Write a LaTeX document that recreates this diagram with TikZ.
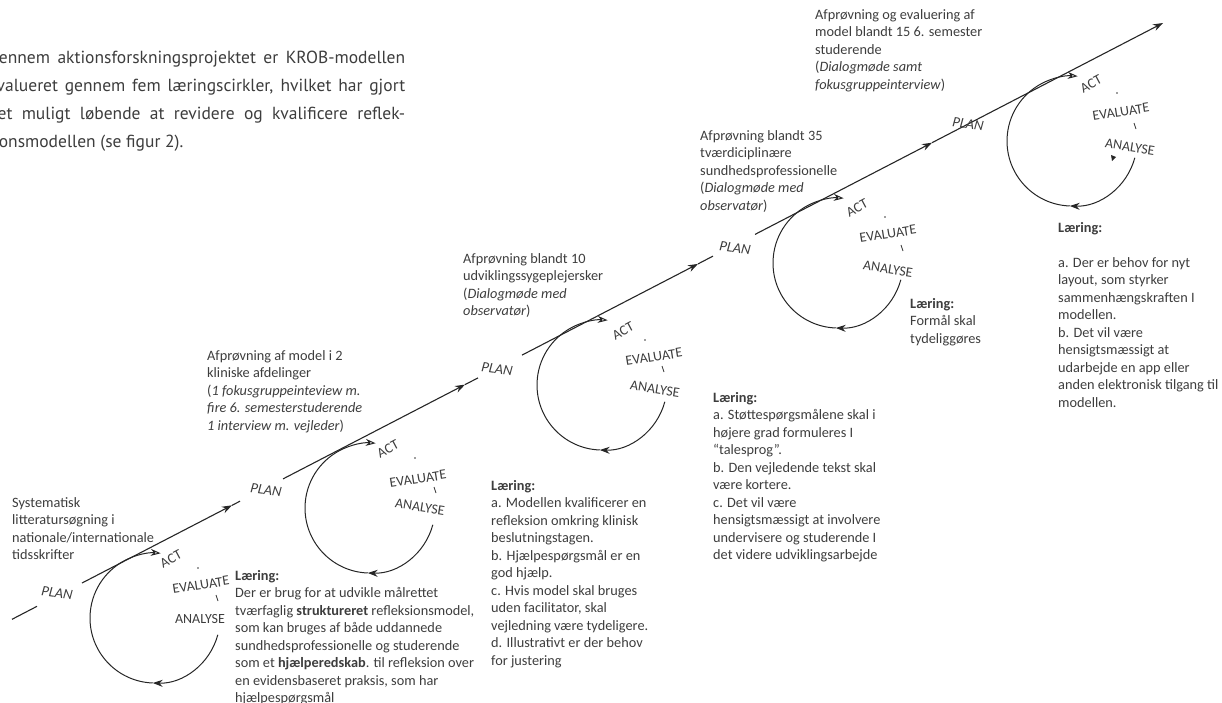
\documentclass[tikz,border=0pt]{standalone}
\usepackage{fontspec}
\setmainfont{Carlito}
\newfontfamily\brodfont{PT Sans}
\usepackage{xcolor}
\usepackage{tikz}
\usetikzlibrary{arrows.meta}

\definecolor{tekstgraa}{HTML}{3D3D3D}
\definecolor{stregfarve}{HTML}{262626}

\begin{document}
\begin{tikzpicture}[x=1pt, y=-1pt,
    fase tekst/.style={font=\fontsize{14}{16}\selectfont, text=tekstgraa, inner sep=0pt},
    plan tekst/.style={font=\fontsize{14.5}{16}\selectfont\itshape, text=tekstgraa, inner sep=0pt, rotate=-8},
    info tekst/.style={font=\fontsize{14.3}{17.5}\selectfont, text=tekstgraa, align=left, anchor=north west, inner sep=0pt},
    hovedlinje/.style={line width=1.1pt, draw=stregfarve},
    cirkel/.style={line width=1pt, draw=stregfarve},
    fuld pil/.style={-{Stealth[length=10pt, width=7pt]}},
    aaben pil/.style={-{Stealth[open, length=10pt, width=7pt]}},
    lille streg/.style={line width=0.9pt, draw=tekstgraa}
]
    \useasboundingbox (0,0) rectangle (1222,702);

    % Indledende tekst
    \node[anchor=north west, inner sep=0pt, align=left, text=tekstgraa, font=\brodfont\fontsize{17.5}{28}\selectfont] (indledning) at (-12,51)
        {\makebox[417pt][s]{Gennem aktionsforskningsprojektet er KROB-modellen}\\
         \makebox[417pt][s]{evalueret gennem fem læringscirkler, hvilket har gjort}\\
         \makebox[417pt][s]{det muligt løbende at revidere og kvalificere reflek-}\\
         tionsmodellen (se figur 2).};

    % Hovedlinje
    \coordinate (s0a) at (12,619.3);
    \coordinate (s0b) at (37,606.3);
    \coordinate (s1a) at (82,583);
    \coordinate (a1)  at (232,505.3);
    \coordinate (s1b) at (240,501.2);
    \coordinate (s2a) at (283,478.9);
    \coordinate (a2)  at (465,384.6);
    \coordinate (s2b) at (478,377.9);
    \coordinate (s3a) at (522,355.1);
    \coordinate (a3)  at (698,263.9);
    \coordinate (s3b) at (713,256.1);
    \coordinate (s4a) at (755,234.4);
    \coordinate (a4)  at (932,142.7);
    \coordinate (slut) at (1163,23);

    \draw[hovedlinje] (s0a) -- (s0b);
    \draw[hovedlinje, fuld pil] (s1a) -- (a1);
    \draw[hovedlinje] (a1) -- (s1b);
    \draw[hovedlinje, fuld pil] (s2a) -- (a2);
    \draw[hovedlinje] (a2) -- (s2b);
    \draw[hovedlinje, fuld pil] (s3a) -- (a3);
    \draw[hovedlinje] (a3) -- (s3b);
    \draw[hovedlinje, fuld pil] (s4a) -- (a4);
    \draw[hovedlinje, fuld pil] (a4) -- (slut);

    % PLAN
    \node[plan tekst] (plan1) at (57,593) {PLAN};
    \node[plan tekst] (plan2) at (266,490) {PLAN};
    \node[plan tekst] (plan3) at (497,369) {PLAN};
    \node[plan tekst] (plan4) at (735,248) {PLAN};
    \node[plan tekst] (plan5) at (968,124) {PLAN};

    % Cirkel 1
    \coordinate (c1) at (155,618);
    \draw[cirkel, fuld pil] ([shift={(15:65)}]c1) arc[start angle=15, end angle=92, radius=65];
    \draw[cirkel, aaben pil] ([shift={(92:65)}]c1) arc[start angle=92, end angle=275, radius=65];
    \node[fase tekst, rotate=28] (act1) at (171,559) {ACT};
    \fill[tekstgraa] (198,568) circle (0.8);
    \node[fase tekst, rotate=9] (eval1) at (201,585) {EVALUATE};
    \draw[lille streg] (216,595) -- (218,601);
    \node[fase tekst] (anal1) at (200,619) {ANALYSE};

    % Cirkel 2
    \coordinate (c2) at (370,508);
    \draw[cirkel, fuld pil] ([shift={(15:65)}]c2) arc[start angle=15, end angle=92, radius=65];
    \draw[cirkel, aaben pil] ([shift={(92:65)}]c2) arc[start angle=92, end angle=275, radius=65];
    \node[fase tekst, rotate=28] (act2) at (388,449) {ACT};
    \fill[tekstgraa] (415,458) circle (0.8);
    \node[fase tekst, rotate=9] (eval2) at (418,479) {EVALUATE};
    \draw[lille streg] (434,487) -- (436,493);
    \node[fase tekst, rotate=-9] (anal2) at (420,507) {ANALYSE};

    % Cirkel 3
    \coordinate (c3) at (602,385);
    \draw[cirkel, fuld pil] ([shift={(15:65)}]c3) arc[start angle=15, end angle=92, radius=65];
    \draw[cirkel, aaben pil] ([shift={(92:65)}]c3) arc[start angle=92, end angle=275, radius=65];
    \node[fase tekst, rotate=28] (act3) at (623,331) {ACT};
    \fill[tekstgraa] (645,340) circle (0.8);
    \node[fase tekst, rotate=9] (eval3) at (654,357) {EVALUATE};
    \draw[lille streg] (662,366) -- (664,372);
    \node[fase tekst, rotate=-9] (anal3) at (655,389) {ANALYSE};

    % Cirkel 4
    \coordinate (c4) at (838,263);
    \draw[cirkel, fuld pil] ([shift={(15:65)}]c4) arc[start angle=15, end angle=92, radius=65];
    \draw[cirkel, aaben pil] ([shift={(92:65)}]c4) arc[start angle=92, end angle=275, radius=65];
    \node[fase tekst, rotate=28] (act4) at (857,208) {ACT};
    \fill[tekstgraa] (885,217) circle (0.8);
    \node[fase tekst, rotate=9] (eval4) at (888,234) {EVALUATE};
    \draw[lille streg] (901,245) -- (903,251);
    \node[fase tekst, rotate=-9] (anal4) at (888,269) {ANALYSE};

    % Cirkel 5
    \coordinate (c5) at (1072,141);
    \draw[cirkel, fuld pil] ([shift={(15:65)}]c5) arc[start angle=15, end angle=92, radius=65];
    \draw[cirkel, aaben pil] ([shift={(92:65)}]c5) arc[start angle=92, end angle=275, radius=65];
    \node[fase tekst, rotate=28] (act5) at (1091,84) {ACT};
    \fill[tekstgraa] (1117,93) circle (0.8);
    \node[fase tekst, rotate=9] (eval5) at (1121,112) {EVALUATE};
    \draw[lille streg] (1134,123) -- (1136,129);
    \node[fase tekst, rotate=-9] (anal5) at (1130,147) {ANALYSE};
    \fill[stregfarve] (1111,155) -- (1116,157) -- (1112,161) -- cycle;

    % Afprøvninger
    \node[info tekst] (litteratur) at (12,497)
        {Systematisk\\ litteratursøgning i\\ nationale/internationale\\ tidsskrifter};
    \node[info tekst] (afd) at (207,350)
        {Afprøvning af model i 2\\ kliniske afdelinger\\ (\textit{1 fokusgruppeinteview m.}\\ \textit{fire 6. semesterstuderende}\\ \textit{1 interview m. vejleder})};
    \node[info tekst] (udv) at (463,253)
        {Afprøvning blandt 10\\ udviklingssygeplejersker\\ (\textit{Dialogmøde med}\\ \textit{observatør})};
    \node[info tekst] (tvaer) at (700,130)
        {Afprøvning blandt 35\\ tværdiciplinære\\ sundhedsprofessionelle\\ (\textit{Dialogmøde med}\\ \textit{observatør})};
    \node[info tekst] (stud) at (815,9)
        {Afprøvning og evaluering af\\ model blandt 15 6. semester\\ studerende\\ (\textit{Dialogmøde samt}\\ \textit{fokusgruppeinterview})};

    % Læring
    \node[info tekst] (laering1) at (235,570)
        {\textbf{Læring:}\\ Der er brug for at udvikle målrettet\\ tværfaglig \textbf{struktureret} refleksionsmodel,\\ som kan bruges af både uddannede\\ sundhedsprofessionelle og studerende\\ som et \textbf{hjælperedskab}. til refleksion over\\ en evidensbaseret praksis, som har\\ hjælpespørgsmål};
    \node[info tekst] (laering2) at (491,480)
        {\textbf{Læring:}\\ a. Modellen kvalificerer en\\ refleksion omkring klinisk\\ beslutningstagen.\\ b. Hjælpespørgsmål er en\\ god hjælp.\\ c. Hvis model skal bruges\\ uden facilitator, skal\\ vejledning være tydeligere.\\ d. Illustrativt er der behov\\ for justering};
    \node[info tekst] (laering3) at (713,392)
        {\textbf{Læring:}\\ a. Støttespørgsmålene skal i\\ højere grad formuleres I\\ “talesprog”.\\ b. Den vejledende tekst skal\\ være kortere.\\ c. Det vil være\\ hensigtsmæssigt at involvere\\ undervisere og studerende I\\ det videre udviklingsarbejde};
    \node[info tekst] (laering4) at (910,298)
        {\textbf{Læring:}\\ Formål skal\\ tydeliggøres};
    \node[info tekst] (laering5) at (1058,222)
        {\textbf{Læring:}\\[17.5pt] a. Der er behov for nyt\\ layout, som styrker\\ sammenhængskraften I\\ modellen.\\ b. Det vil være\\ hensigtsmæssigt at\\ udarbejde en app eller\\ anden elektronisk tilgang til\\ modellen.};
\end{tikzpicture}
\end{document}
